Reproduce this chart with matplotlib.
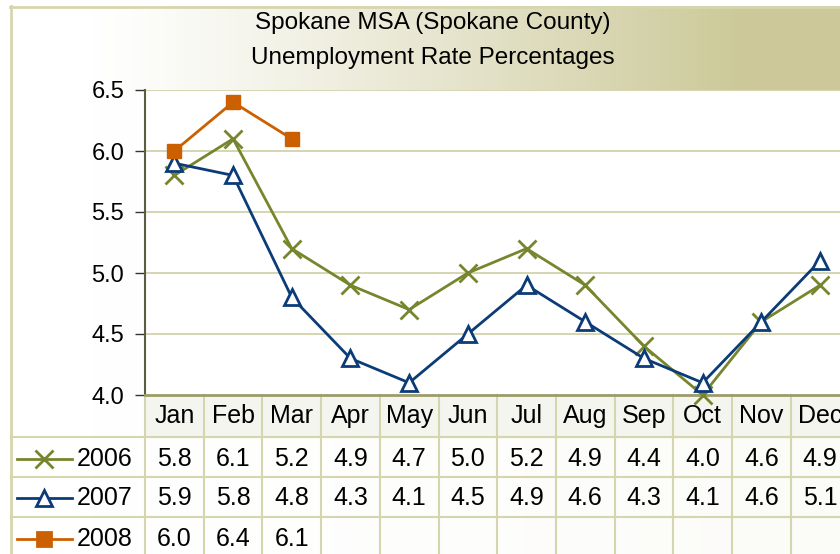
import numpy as np
import matplotlib
matplotlib.use("Agg")
import matplotlib.pyplot as plt
from matplotlib.lines import Line2D
from matplotlib.transforms import blended_transform_factory

plt.rcParams['font.family'] = ['Liberation Sans', 'DejaVu Sans']

# data
months = ['Jan', 'Feb', 'Mar', 'Apr', 'May', 'Jun', 'Jul', 'Aug', 'Sep', 'Oct', 'Nov', 'Dec']
years = ['2006', '2007', '2008']
rate_2006 = [5.8, 6.1, 5.2, 4.9, 4.7, 5.0, 5.2, 4.9, 4.4, 4.0, 4.6, 4.9]
rate_2007 = [5.9, 5.8, 4.8, 4.3, 4.1, 4.5, 4.9, 4.6, 4.3, 4.1, 4.6, 5.1]
rate_2008 = [6.0, 6.4, 6.1]
yticks = [4.0, 4.5, 5.0, 5.5, 6.0, 6.5]

W, H = 840, 554
fig = plt.figure(figsize=(W / 100, H / 100), dpi=100)

# background gradient (olive title band, near white below)
bg = fig.add_axes([0, 0, 1, 1], zorder=-5)
xx = np.clip((np.arange(W) - 90) / 650.0, 0, 1) ** 1.2
yy = np.arange(H)
strength = np.where(yy < 90, 1.0, 0.06)
t = strength[:, None] * xx[None, :]
white = np.array([1.0, 1.0, 1.0])
olive = np.array([0.80, 0.788, 0.60])
img = white[None, None, :] * (1 - t[..., None]) + olive[None, None, :] * t[..., None]
img[:6, :, :] = 1.0
img[:, :10, :] = 1.0
bg.imshow(img, aspect='auto', extent=[0, W, H, 0])
bg.set_xlim(0, W)
bg.set_ylim(H, 0)
bg.axis('off')

border = '#d6d6ae'
gridc = '#d2d2aa'
bg.plot([10.5, 10.5], [6, H], color=border, lw=2)
bg.plot([10, W], [6.5, 6.5], color=border, lw=2)

# header row fill of the data table
bg.fill_between([145, W], 395, 437, color='#f5f5f0', zorder=1)

def fy(py):
    return 1 - py / H

fig.text(433 / W, fy(23), 'Spokane MSA (Spokane County)', ha='center', va='center', fontsize=17.5)
fig.text(433 / W, fy(58), 'Unemployment Rate Percentages', ha='center', va='center', fontsize=17.5)

ax = fig.add_axes([145 / W, fy(395), 58.7 * 12 / W, 305 / H])
ax.set_facecolor('white')
x = np.arange(len(months))

c06, c07, c08 = '#76862d', '#0b3c78', '#cc6000'
ax.plot(x, rate_2006, color=c06, lw=2, marker='x', ms=13, mew=2, clip_on=False, zorder=3)
ax.plot(x, rate_2007, color=c07, lw=2, marker='^', ms=12, mew=2, mfc='white', clip_on=False, zorder=4)
ax.plot(x[:len(rate_2008)], rate_2008, color=c08, lw=2, marker='s', ms=10, clip_on=False, zorder=5)

ax.set_xlim(-0.5, 11.5)
ax.set_ylim(4.0, 6.5)
ax.set_yticks(yticks)
ax.set_yticklabels([f'{v:.1f}' for v in yticks])
ax.set_xticks([])
for v in yticks[1:]:
    ax.axhline(v, color=gridc, lw=1.3, zorder=1)
ax.tick_params(axis='y', direction='out', length=7, width=1, color='#333333', labelsize=17, pad=8)
for s in ['top', 'right']:
    ax.spines[s].set_visible(False)
ax.spines['left'].set_color('#5c5c40')
ax.spines['left'].set_linewidth(1.5)
ax.spines['bottom'].set_color('#9c9c6a')
ax.spines['bottom'].set_linewidth(2)

# data table below the plot
tr = blended_transform_factory(ax.transData, fig.transFigure)
for k in range(len(months) + 1):
    xb = k - 0.5
    ax.add_line(Line2D([xb, xb], [0, fy(395)], transform=tr, color=border, lw=1.5, clip_on=False))
for py in [437, 477, 517]:
    bg.plot([11, W], [py, py], color=border, lw=1.5)

header_y = fy(416)
row_y = [fy(459), fy(498), fy(539)]
for i, m in enumerate(months):
    ax.text(i, header_y, m, transform=tr, ha='center', va='center', fontsize=18, clip_on=False)
for r, vals in enumerate([rate_2006, rate_2007, rate_2008]):
    for i, v in enumerate(vals):
        ax.text(i, row_y[r], f'{v:.1f}', transform=tr, ha='center', va='center', fontsize=18, clip_on=False)

# legend keys in the table's first column
keys = [(c06, 'x', 13, c06), (c07, '^', 11, 'white'), (c08, 's', 10, c08)]
for r, (c, mk, ms, mfc) in enumerate(keys):
    py = [459, 498, 539][r]
    bg.plot([17, 72], [py, py], color=c, lw=2)
    bg.plot([44], [py], color=c, marker=mk, ms=ms, mew=2, mfc=mfc)
    bg.text(77, py, years[r], ha='left', va='center', fontsize=18)

fig.savefig('out.png', dpi=100)
